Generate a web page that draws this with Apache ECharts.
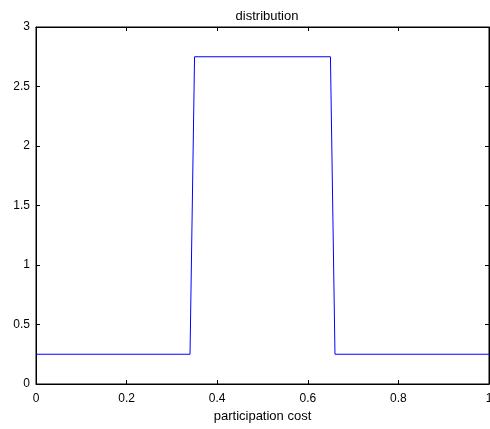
<!DOCTYPE html>
<html><head><meta charset="utf-8">
<script src="https://cdn.jsdelivr.net/npm/echarts@6/dist/echarts.min.js"></script>
<style>html,body{margin:0;padding:0;background:#fff}#c{width:490px;height:429px}</style>
</head><body><div id="c"></div>
<script>
const xValues = [0, 0.34, 0.35, 0.65, 0.66, 1];
const yValues = [0.25, 0.25, 2.75, 2.75, 0.25, 0.25];
const titleText = 'distribution';
const xLabel = 'participation cost';

const chart = echarts.init(document.getElementById('c'));
const font = 'Liberation Sans, Arial, sans-serif';
function axis(extra) {
  return Object.assign({
    type: 'value',
    axisLine: {show: true, onZero: false, lineStyle: {color: '#000', width: 1}},
    axisTick: {show: true, inside: true, length: 4, lineStyle: {color: '#000'}},
    splitLine: {show: false},
    axisLabel: {color: '#000', fontSize: 12, fontFamily: font}
  }, extra);
}
const pts = xValues.map((x, i) => [x, yValues[i]]);
chart.setOption({
  animation: false,
  title: {text: titleText, left: 262, top: 5, textAlign: 'center',
    textStyle: {fontSize: 13, fontWeight: 'normal', color: '#000', fontFamily: font}},
  grid: {left: 36, right: 1, top: 27, bottom: 45, outerBoundsMode: 'none', containLabel: false,
    show: true, borderColor: '#000', borderWidth: 1, backgroundColor: 'transparent'},
  xAxis: [
    axis({position: 'bottom', min: 0, max: 1, interval: 0.2,
      name: xLabel, nameLocation: 'middle', nameGap: 25,
      nameTextStyle: {fontSize: 13, color: '#000', fontFamily: font},
      axisLabel: {color: '#000', fontSize: 12, fontFamily: font, margin: 9}}),
    axis({position: 'top', min: 0, max: 1, interval: 0.2, axisLabel: {show: false}})
  ],
  yAxis: [
    axis({position: 'left', min: 0, max: 3, interval: 0.5,
      axisLabel: {color: '#000', fontSize: 12, fontFamily: font, margin: 6}}),
    axis({position: 'right', min: 0, max: 3, interval: 0.5, axisLabel: {show: false}})
  ],
  series: [{
    type: 'line', data: pts, showSymbol: false, symbol: 'none',
    lineStyle: {color: '#0000ff', width: 1}, xAxisIndex: 0, yAxisIndex: 0
  }, {
    type: 'line', data: pts, showSymbol: false, symbol: 'none', silent: true,
    lineStyle: {opacity: 0}, xAxisIndex: 1, yAxisIndex: 1
  }]
});
</script></body></html>
